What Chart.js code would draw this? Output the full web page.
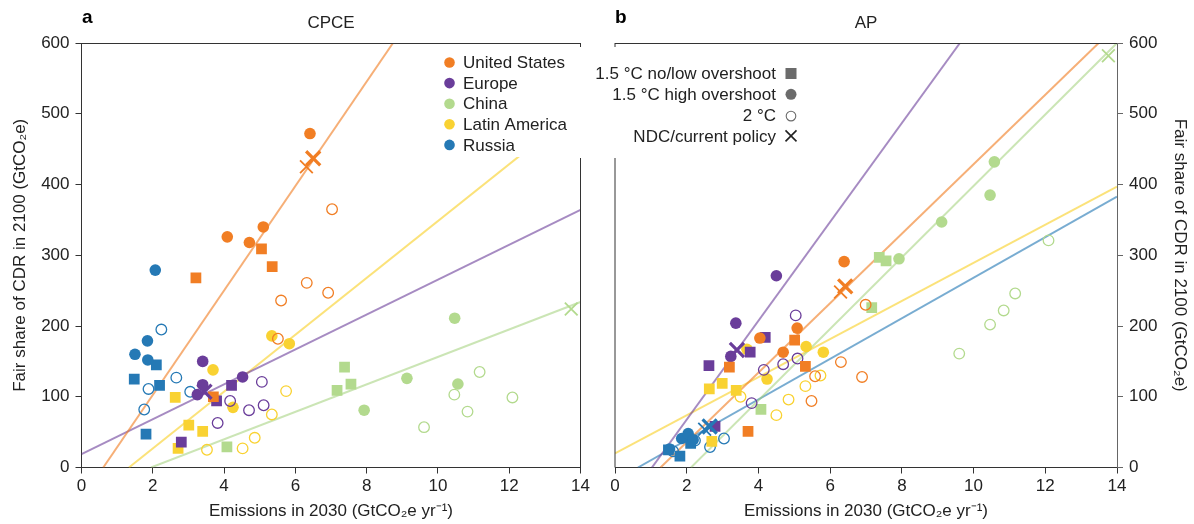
<!DOCTYPE html>
<html><head><meta charset="utf-8">
<script src="https://cdn.jsdelivr.net/npm/chart.js@4.4.0/dist/chart.umd.min.js"></script>
<style>
html,body{margin:0;padding:0;background:#fff;width:1194px;height:524px;overflow:hidden}
canvas{position:absolute;top:0}
#cL{left:0}
#cR{left:585px}
</style></head><body>
<canvas id="cL" width="600" height="524"></canvas>
<canvas id="cR" width="609" height="524"></canvas>
<script>
// ---------- tick labels / ranges ----------
const X_TICKS = [0, 2, 4, 6, 8, 10, 12, 14];
const Y_TICKS = [0, 100, 200, 300, 400, 500, 600];
const REGIONS = ['United States', 'Europe', 'China', 'Latin America', 'Russia'];
const SCENARIOS = ['1.5 °C no/low overshoot', '1.5 °C high overshoot', '2 °C', 'NDC/current policy'];

// ---------- Panel a: CPCE ----------
const CPCE_US_LOW  = [[3.21,268],[5.05,309],[5.35,284],[3.70,100]];
const CPCE_US_HIGH = [[6.41,472],[4.09,326],[4.71,318],[5.10,340]];
const CPCE_US_2C   = [[7.03,365],[6.32,261],[6.92,247],[5.60,236],[5.51,182]];
const CPCE_US_NDC  = [[6.50,437]];
const CPCE_US_CP   = [[6.31,425]];

const CPCE_EU_LOW  = [[4.21,116],[3.79,94],[2.80,36]];
const CPCE_EU_HIGH = [[3.40,150],[3.40,117],[4.52,128],[3.25,103]];
const CPCE_EU_2C   = [[5.06,121],[4.17,94],[4.70,81],[5.11,88],[3.82,63]];
const CPCE_EU_NDC  = [[3.45,107]];

const CPCE_CN_LOW  = [[7.38,142],[7.17,109],[7.56,118],[4.08,29]];
const CPCE_CN_HIGH = [[10.47,211],[9.13,126],[10.56,118],[7.93,81]];
const CPCE_CN_2C   = [[11.17,135],[10.46,103],[12.09,99],[10.83,79],[9.61,57]];
const CPCE_CN_NDC  = [[13.74,224]];

const CPCE_LA_LOW  = [[2.63,99],[3.01,60],[3.40,51],[2.71,27]];
const CPCE_LA_HIGH = [[5.34,186],[5.83,175],[3.69,138],[4.25,85]];
const CPCE_LA_2C   = [[5.74,108],[5.34,75],[4.86,42],[4.52,27],[3.52,25]];

const CPCE_RU_LOW  = [[2.10,145],[1.48,125],[2.19,116],[1.81,47]];
const CPCE_RU_HIGH = [[2.07,279],[1.85,179],[1.50,160],[1.86,152]];
const CPCE_RU_2C   = [[2.24,195],[2.66,127],[1.88,111],[3.05,107],[1.76,82]];

// fitted lines (endpoints)
const CPCE_US_FIT = [[0.61,0],[8.74,600]];
const CPCE_EU_FIT = [[0,19],[14,364]];
const CPCE_CN_FIT = [[1.95,0],[14,234]];
const CPCE_LA_FIT = [[1.33,0],[14,509]];

// ---------- Panel b: AP ----------
const AP_US_LOW  = [[5.01,180],[5.31,143],[3.19,142],[3.71,51]];
const AP_US_HIGH = [[6.39,291],[5.08,197],[4.69,163],[4.04,183]];
const AP_US_2C   = [[6.99,230],[6.30,149],[6.89,128],[5.58,129],[5.48,94]];
const AP_US_NDC  = [[6.42,256]];
const AP_US_CP   = [[6.29,248]];

const AP_EU_LOW  = [[4.19,184],[2.62,144],[3.77,163],[2.79,58]];
const AP_EU_HIGH = [[4.50,271],[3.37,204],[3.23,157]];
const AP_EU_2C   = [[5.04,215],[5.09,154],[4.69,146],[4.15,138],[3.81,91]];
const AP_EU_NDC  = [[3.40,166]];

const AP_CN_LOW  = [[7.37,297],[7.56,292],[7.16,226],[4.07,82]];
const AP_CN_HIGH = [[10.58,432],[10.46,385],[9.11,347],[7.92,295]];
const AP_CN_2C   = [[12.09,321],[11.16,246],[10.84,222],[10.46,202],[9.60,161]];
const AP_CN_NDC  = [[13.76,582]];

const AP_LA_LOW  = [[2.63,111],[2.99,119],[3.38,109],[2.70,37]];
const AP_LA_HIGH = [[3.68,167],[5.33,171],[5.81,163],[4.24,125]];
const AP_LA_2C   = [[3.50,100],[4.84,96],[5.31,115],[4.50,74],[5.73,130]];

const AP_RU_LOW  = [[1.49,25],[1.81,16],[2.11,34]];
const AP_RU_HIGH = [[1.52,26],[1.86,41],[2.04,48],[2.18,39]];
const AP_RU_2C   = [[3.04,41],[2.65,29],[2.23,38],[1.62,23]];
const AP_RU_NDC  = [[2.64,58]];
const AP_RU_CP   = [[2.50,54]];

const AP_US_FIT = [[1.27,0],[13.49,600]];
const AP_EU_FIT = [[1.03,0],[9.62,600]];
const AP_CN_FIT = [[2.12,0],[14,600]];
const AP_LA_FIT = [[0,20],[14,397]];
const AP_RU_FIT = [[0.64,0],[14,383]];

// ---------- styling ----------
const FONT = "'Liberation Sans', Arial, Helvetica, sans-serif";
const TXT = '#222';
const COL = {US:'#F17E24', EU:'#6A3D9A', CN:'#B3DA8E', LA:'#F9D232', RU:'#2579B5'};
const LCOL = {US:'rgba(241,126,36,0.62)', EU:'rgba(106,61,154,0.6)', CN:'rgba(160,208,120,0.55)', LA:'rgba(249,210,50,0.65)', RU:'rgba(37,121,181,0.62)'};

function pts(a){ return a.map(p => ({x:p[0], y:p[1]})); }
function lowSet(a,c){ return {data:pts(a), pointStyle:'rect', pointRadius:7.6, backgroundColor:c, borderWidth:0, order:1}; }
function highSet(a,c){ return {data:pts(a), pointStyle:'circle', pointRadius:5.8, backgroundColor:c, borderWidth:0, order:1}; }
function twoSet(a,c){ return {data:pts(a), pointStyle:'circle', pointRadius:5.3, backgroundColor:'rgba(255,255,255,0)', borderColor:c, borderWidth:1.3, order:1}; }
function ndcSet(a,c,w,r){ return {data:pts(a), pointStyle:'crossRot', pointRadius:r, borderColor:c, borderWidth:w, order:1}; }
function fitSet(a,c){ return {data:pts(a), showLine:true, pointRadius:0, borderColor:c, borderWidth:2, order:10}; }

const cpceDatasets = [
  fitSet(CPCE_US_FIT, LCOL.US), fitSet(CPCE_EU_FIT, LCOL.EU), fitSet(CPCE_CN_FIT, LCOL.CN), fitSet(CPCE_LA_FIT, LCOL.LA),
  ndcSet(CPCE_US_NDC, COL.US, 3.2, 10), ndcSet(CPCE_US_CP, COL.US, 1.8, 9),
  ndcSet(CPCE_EU_NDC, COL.EU, 3.2, 10), ndcSet(CPCE_CN_NDC, COL.CN, 1.8, 9),
  highSet(CPCE_US_HIGH, COL.US), lowSet(CPCE_US_LOW, COL.US), twoSet(CPCE_US_2C, COL.US),
  highSet(CPCE_EU_HIGH, COL.EU), lowSet(CPCE_EU_LOW, COL.EU), twoSet(CPCE_EU_2C, COL.EU),
  highSet(CPCE_CN_HIGH, COL.CN), lowSet(CPCE_CN_LOW, COL.CN), twoSet(CPCE_CN_2C, COL.CN),
  highSet(CPCE_LA_HIGH, COL.LA), lowSet(CPCE_LA_LOW, COL.LA), twoSet(CPCE_LA_2C, COL.LA),
  highSet(CPCE_RU_HIGH, COL.RU), lowSet(CPCE_RU_LOW, COL.RU), twoSet(CPCE_RU_2C, COL.RU)
];

const apDatasets = [
  fitSet(AP_US_FIT, LCOL.US), fitSet(AP_EU_FIT, LCOL.EU), fitSet(AP_CN_FIT, LCOL.CN), fitSet(AP_LA_FIT, LCOL.LA), fitSet(AP_RU_FIT, LCOL.RU),
  ndcSet(AP_US_NDC, COL.US, 3.2, 10), ndcSet(AP_US_CP, COL.US, 1.8, 9),
  ndcSet(AP_EU_NDC, COL.EU, 3.2, 10), ndcSet(AP_CN_NDC, COL.CN, 1.8, 9),
  ndcSet(AP_RU_NDC, COL.RU, 3.2, 10), ndcSet(AP_RU_CP, COL.RU, 1.8, 9),
  highSet(AP_US_HIGH, COL.US), lowSet(AP_US_LOW, COL.US), twoSet(AP_US_2C, COL.US),
  highSet(AP_EU_HIGH, COL.EU), lowSet(AP_EU_LOW, COL.EU), twoSet(AP_EU_2C, COL.EU),
  highSet(AP_CN_HIGH, COL.CN), lowSet(AP_CN_LOW, COL.CN), twoSet(AP_CN_2C, COL.CN),
  highSet(AP_LA_HIGH, COL.LA), lowSet(AP_LA_LOW, COL.LA), twoSet(AP_LA_2C, COL.LA),
  highSet(AP_RU_HIGH, COL.RU), lowSet(AP_RU_LOW, COL.RU), twoSet(AP_RU_2C, COL.RU)
];

function tickCb(v){ return X_TICKS.includes(v) ? String(v) : ''; }
function yTickCb(v){ return Y_TICKS.includes(v) ? String(v) : ''; }

function xScale(){
  return {type:'linear', position:'bottom', min:X_TICKS[0], max:X_TICKS[X_TICKS.length-1],
    ticks:{stepSize:2, color:TXT, font:{family:FONT, size:17}, padding:3, maxRotation:0, callback:tickCb},
    grid:{drawOnChartArea:false, drawTicks:true, tickLength:6, color:'#333'},
    border:{color:'#333', width:1},
    title:{display:true, text:'Emissions in 2030 (GtCO₂e yr⁻¹)', color:TXT, font:{family:FONT, size:17}, padding:{top:0, bottom:2}},
    afterFit:(s)=>{ s.height = 56.5; }
  };
}
function yScale(pos, width, titlePad, borderColor){
  return {type:'linear', position:pos, min:Y_TICKS[0], max:Y_TICKS[Y_TICKS.length-1],
    ticks:{stepSize:100, color:TXT, font:{family:FONT, size:17}, padding:6, callback:yTickCb},
    grid:{drawOnChartArea:false, drawTicks:true, tickLength:6, color:borderColor},
    border:{color:borderColor, width:1},
    title:{display:true, text:'Fair share of CDR in 2100 (GtCO₂e)', color:TXT, font:{family:FONT, size:17}, padding:{top:titlePad, bottom:0}},
    afterFit:(s)=>{ s.width = width; }
  };
}

// panel decorations: bold letter, legend box, frame
function panelPlugin(cfg){
  return {
    id:'panelDeco'+cfg.letter,
    afterDatasetsDraw(chart){
      const ctx = chart.ctx, ca = chart.chartArea;
      ctx.save();
      // white legend box
      ctx.fillStyle = '#fff';
      ctx.fillRect(cfg.box[0], cfg.box[1], cfg.box[2], cfg.box[3]);
      // frame lines
      ctx.strokeStyle = '#333'; ctx.lineWidth = 1;
      ctx.beginPath();
      ctx.moveTo(ca.left, ca.top + 0.5); ctx.lineTo(ca.right, ca.top + 0.5);
      const fx = cfg.frameSide === 'right' ? ca.right : ca.left;
      ctx.moveTo(fx, ca.top); ctx.lineTo(fx, ca.top + 4);
      ctx.moveTo(fx, cfg.frameFrom); ctx.lineTo(fx, ca.bottom);
      ctx.stroke();
      // letter
      ctx.fillStyle = '#000';
      ctx.font = 'bold 19px ' + FONT;
      ctx.textBaseline = 'alphabetic'; ctx.textAlign = 'left';
      ctx.fillText(cfg.letter, cfg.letterX, 23);
      cfg.legend(ctx);
      ctx.restore();
    }
  };
}

function regionLegend(ctx){
  const cols = [COL.US, COL.EU, COL.CN, COL.LA, COL.RU];
  ctx.font = '17px ' + FONT; ctx.textBaseline = 'middle'; ctx.textAlign = 'left';
  REGIONS.forEach((name, i) => {
    const y = 62.5 + i * 20.6;
    ctx.fillStyle = cols[i];
    ctx.beginPath(); ctx.arc(449.5, y, 5.3, 0, Math.PI * 2); ctx.fill();
    ctx.fillStyle = TXT;
    ctx.fillText(name, 463, y + 1);
  });
}

function scenarioLegend(ctx){
  const g = '#6b6b6b', mx = 206;
  ctx.font = '17px ' + FONT; ctx.textBaseline = 'middle'; ctx.textAlign = 'right';
  SCENARIOS.forEach((name, i) => {
    const y = 73.5 + i * 20.8;
    ctx.fillStyle = TXT;
    ctx.fillText(name, 191, y + 1);
    if (i === 0){ ctx.fillStyle = g; ctx.fillRect(mx - 5.5, y - 5.5, 11, 11); }
    else if (i === 1){ ctx.fillStyle = g; ctx.beginPath(); ctx.arc(mx, y, 5.5, 0, Math.PI*2); ctx.fill(); }
    else if (i === 2){ ctx.strokeStyle = g; ctx.lineWidth = 1.1; ctx.beginPath(); ctx.arc(mx, y + 1, 4.8, 0, Math.PI*2); ctx.stroke(); }
    else { ctx.strokeStyle = '#222'; ctx.lineWidth = 1.6; ctx.beginPath();
      ctx.moveTo(mx - 5.5, y - 5.5); ctx.lineTo(mx + 5.5, y + 5.5);
      ctx.moveTo(mx + 5.5, y - 5.5); ctx.lineTo(mx - 5.5, y + 5.5); ctx.stroke(); }
  });
}

function titleOpts(t){
  return {display:true, text:t, fullSize:false, color:TXT, font:{family:FONT, size:17, weight:'normal'}, padding:{top:13, bottom:9.6}};
}

Chart.defaults.animation = false;

new Chart(document.getElementById('cL'), {
  type:'scatter',
  data:{datasets:cpceDatasets},
  options:{
    responsive:false, animation:false, events:[],
    layout:{padding:{left:0, right:19.5, top:0, bottom:0}},
    plugins:{legend:{display:false}, tooltip:{enabled:false}, title:titleOpts('CPCE')},
    scales:{x:xScale(), y:yScale('left', 81.5, 10, '#333')}
  },
  plugins:[panelPlugin({letter:'a', letterX:82, box:[440, 45, 160, 112], frameSide:'right', frameFrom:158, legend:regionLegend})]
});

new Chart(document.getElementById('cR'), {
  type:'scatter',
  data:{datasets:apDatasets},
  options:{
    responsive:false, animation:false, events:[],
    layout:{padding:{left:30, right:0, top:0, bottom:0}},
    plugins:{legend:{display:false}, tooltip:{enabled:false}, title:titleOpts('AP')},
    scales:{x:xScale(), y:yScale('right', 77, 4, '#666')}
  },
  plugins:[panelPlugin({letter:'b', letterX:30, box:[5, 45, 215, 112], frameSide:'left', frameFrom:158, legend:scenarioLegend})]
});
</script></body></html>
